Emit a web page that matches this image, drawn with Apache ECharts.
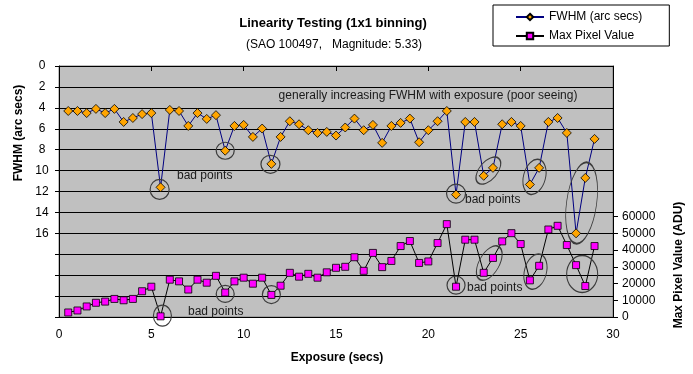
<!DOCTYPE html>
<html>
<head>
<meta charset="utf-8">
<script src="https://cdn.jsdelivr.net/npm/echarts@6/dist/echarts.min.js"></script>
<style>html,body{margin:0;padding:0;background:#fff}#c{width:693px;height:374px}</style>
</head>
<body>
<div id="c"></div>
<script>
// ---- data ----
const exposures = [0.5,1,1.5,2,2.5,3,3.5,4,4.5,5,5.5,6,6.5,7,7.5,8,8.5,9,9.5,10,10.5,11,11.5,12,12.5,13,13.5,14,14.5,15,15.5,16,16.5,17,17.5,18,18.5,19,19.5,20,20.5,21,21.5,22,22.5,23,23.5,24,24.5,25,25.5,26,26.5,27,27.5,28,28.5,29];
const fwhm = [4.3,4.3,4.5,4.1,4.5,4.1,5.35,4.97,4.6,4.5,11.6,4.2,4.3,5.73,4.5,5.06,4.7,8.1,5.73,5.63,6.78,5.98,9.36,6.78,5.28,5.57,6.14,6.4,6.3,6.65,5.88,5.03,6.14,5.63,7.35,5.73,5.44,5.03,7.29,6.14,5.28,4.3,12.3,5.35,5.35,10.5,9.74,5.57,5.35,5.73,11.33,9.74,5.35,4.97,6.4,16.0,10.7,6.97];
const maxPixel = [2700,3900,6300,8500,9200,10800,10000,10800,15400,18100,400,22300,21300,16400,22300,20500,24600,14600,21300,23500,19900,23500,13200,18700,26400,24100,25800,23500,26700,29400,30000,35700,27600,38300,29800,33500,42400,45400,32300,33200,44200,55500,18100,46200,46200,26400,35300,45200,50100,43600,21900,30600,52300,54500,43000,31000,18500,42400];
const xTicks = [0,5,10,15,20,25,30];
const fwhmTickLabels = [0,2,4,6,8,10,12,14,16];
const pixelTickLabels = [0,10000,20000,30000,40000,50000,60000];
// "bad points" rings: [x, value, width, height, rotation]
const fwhmRings = [[5.45,11.8,19,20,0],[9.0,8.1,18,17,0],[11.45,9.4,19,18,0],[21.5,12.2,19,19,0],[23.25,10.0,18,32,-40],[25.75,10.6,22,36,-15],[28.3,13.1,30,82,-8]];
const pixelRings = [[5.6,800,18,21,0],[9.0,13800,18,17,0],[11.5,13400,18,18,0],[21.5,19000,18,18,0],[23.3,32200,20,38,-30],[25.8,27100,22,36,-15],[28.33,25700,31,37,0]];

const FONT = '"Liberation Sans", Arial, sans-serif';
const chart = echarts.init(document.getElementById('c'), null, {renderer:'canvas'});

function rings(arr){
  return arr.map(r => ({coord:[r[0], r[1]], symbolSize:[r[2], r[3]], symbolRotate:r[4]}));
}
const ringStyle = {
  symbol:'circle', silent:true, animation:false,
  label:{show:false},
  itemStyle:{color:'rgba(0,0,0,0)', borderColor:'#3c3c3c', borderWidth:1.2}
};

const option = {
  animation:false,
  backgroundColor:'#ffffff',
  textStyle:{fontFamily:FONT},
  grid:{left:59, right:80, top:66, bottom:57, show:true, backgroundColor:'#C0C0C0', borderColor:'#808080', borderWidth:1},
  legend:{
    orient:'vertical', left:493, top:5,
    padding:[5,27,3,22], itemWidth:28, itemHeight:8, itemGap:5,
    backgroundColor:'#ffffff', borderColor:'#000', borderWidth:1, borderRadius:0,
    textStyle:{fontFamily:FONT, fontSize:12, color:'#000', lineHeight:14},
    data:['FWHM (arc secs)','Max Pixel Value']
  },
  xAxis:{
    type:'value', min:0, max:30, interval:5,
    axisLine:{show:true, lineStyle:{color:'#000', width:1}},
    axisTick:{show:true, inside:false, length:5, lineStyle:{color:'#000'}},
    axisLabel:{fontFamily:FONT, fontSize:12, color:'#000', margin:12},
    splitLine:{show:false}
  },
  yAxis:[
    {
      type:'value', min:0, max:24, interval:2, inverse:true, position:'left',
      axisLine:{show:true, onZero:false, lineStyle:{color:'#000', width:1}},
      axisTick:{show:true, length:4, lineStyle:{color:'#000'}},
      axisLabel:{fontFamily:FONT, fontSize:12, color:'#000', margin:17, align:'center',
        formatter: v => fwhmTickLabels.indexOf(v) >= 0 ? String(v) : ''},
      splitLine:{show:true, lineStyle:{color:'#000', width:1}}
    },
    {
      type:'value', min:0, max:150000, interval:10000, position:'right',
      axisLine:{show:true, onZero:false, lineStyle:{color:'#000', width:1}},
      axisTick:{show:true, length:5, lineStyle:{color:'#000'}, customValues:pixelTickLabels},
      axisLabel:{fontFamily:FONT, fontSize:12, color:'#000', margin:9, customValues:pixelTickLabels,
        formatter: v => pixelTickLabels.indexOf(v) >= 0 ? String(v) : ''},
      splitLine:{show:false}
    }
  ],
  series:[
    {
      name:'FWHM (arc secs)', type:'line', yAxisIndex:0,
      data: exposures.map((x,i) => [x, fwhm[i]]),
      symbol:'diamond', symbolSize:9, showAllSymbol:true,
      lineStyle:{color:'#000080', width:1},
      itemStyle:{color:'#FFA500', borderColor:'#000', borderWidth:0.8},
      z:3,
      markPoint:Object.assign({data:rings(fwhmRings)}, ringStyle)
    },
    {
      name:'Max Pixel Value', type:'line', yAxisIndex:1,
      data: exposures.map((x,i) => [x, maxPixel[i]]),
      symbol:'rect', symbolSize:7, showAllSymbol:true,
      lineStyle:{color:'#000000', width:1},
      itemStyle:{color:'#FF00FF', borderColor:'#000', borderWidth:0.8},
      z:3,
      markPoint:Object.assign({data:rings(pixelRings)}, ringStyle)
    }
  ],
  graphic:[
    {type:'text', x:333, y:23, style:{text:'Linearity Testing (1x1 binning)', font:'bold 13px '+FONT, fill:'#000', textAlign:'center', textVerticalAlign:'middle'}},
    {type:'text', x:334, y:45, style:{text:'(SAO 100497,   Magnitude: 5.33)', font:'12px '+FONT, fill:'#000', textAlign:'center', textVerticalAlign:'middle'}},
    {type:'text', x:337, y:358, style:{text:'Exposure (secs)', font:'bold 12px '+FONT, fill:'#000', textAlign:'center', textVerticalAlign:'middle'}},
    {type:'text', x:19, y:133, rotation:Math.PI/2, style:{text:'FWHM (arc secs)', font:'bold 12px '+FONT, fill:'#000', textAlign:'center', textVerticalAlign:'middle'}},
    {type:'text', x:679, y:265, rotation:Math.PI/2, style:{text:'Max Pixel Value (ADU)', font:'bold 12px '+FONT, fill:'#000', textAlign:'center', textVerticalAlign:'middle'}},
    {type:'text', x:428, y:96, z:10, style:{text:'generally increasing FWHM with exposure (poor seeing)', font:'12px '+FONT, fill:'#1a1a1a', textAlign:'center', textVerticalAlign:'middle'}},
    {type:'text', x:177, y:176, z:10, style:{text:'bad points', font:'12px '+FONT, fill:'#1a1a1a', textAlign:'left', textVerticalAlign:'middle'}},
    {type:'text', x:465, y:200, z:10, style:{text:'bad points', font:'12px '+FONT, fill:'#1a1a1a', textAlign:'left', textVerticalAlign:'middle'}},
    {type:'text', x:467, y:288, z:10, style:{text:'bad points', font:'12px '+FONT, fill:'#1a1a1a', textAlign:'left', textVerticalAlign:'middle'}},
    {type:'text', x:188, y:312, z:10, style:{text:'bad points', font:'12px '+FONT, fill:'#1a1a1a', textAlign:'left', textVerticalAlign:'middle'}}
  ]
};
chart.setOption(option);
</script>
</body>
</html>
